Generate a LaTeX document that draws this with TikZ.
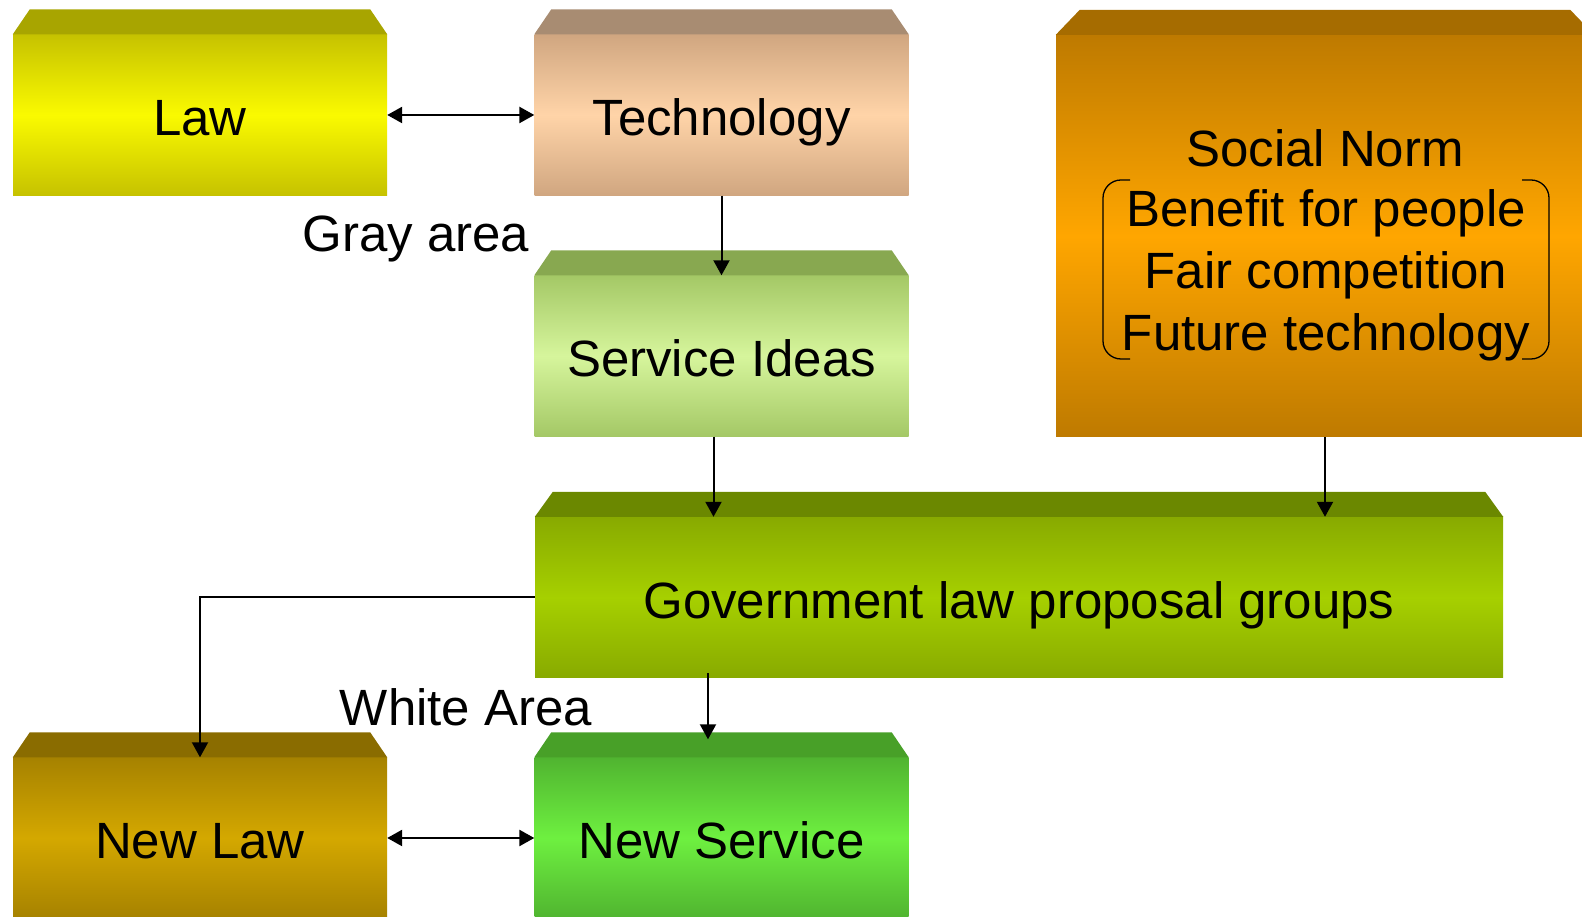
\documentclass[tikz,border=0pt]{standalone}
\usepackage{fontspec}
\setmainfont{Liberation Sans}
\usetikzlibrary{arrows.meta,calc,positioning}
\tikzset {>={Triangle[length=15pt,width=16pt]}}

\definecolor{lawbevel}{HTML}{A8A500}
\definecolor{lawedge}{HTML}{C6C200}
\definecolor{lawmid}{HTML}{FAFA00}
\definecolor{techbevel}{HTML}{A88C72}
\definecolor{techedge}{HTML}{D0A680}
\definecolor{techmid}{HTML}{FFD4A8}
\definecolor{ideabevel}{HTML}{88A850}
\definecolor{ideaedge}{HTML}{A4C866}
\definecolor{ideamid}{HTML}{D6F59C}
\definecolor{normbevel}{HTML}{A66C00}
\definecolor{normedge}{HTML}{BE7A00}
\definecolor{normmid}{HTML}{FFA600}
\definecolor{govbevel}{HTML}{6B8800}
\definecolor{govedge}{HTML}{88AA00}
\definecolor{govmid}{HTML}{A6D000}
\definecolor{newlawbevel}{HTML}{8A6C00}
\definecolor{newlawedge}{HTML}{A68200}
\definecolor{newlawmid}{HTML}{D4A800}
\definecolor{newservbevel}{HTML}{48A028}
\definecolor{newservedge}{HTML}{50B430}
\definecolor{newservmid}{HTML}{6EF040}

\tikzset{
  block/.style={rectangle,inner sep=0pt,minimum width=374pt,minimum height=161pt,
    text height=42pt,text depth=0pt,font=\fontsize{51pt}{62pt}\selectfont},
  shadebox/.style={block,top color=#1edge,bottom color=#1edge,middle color=#1mid},
  label/.style={inner sep=0pt,font=\fontsize{51pt}{62pt}\selectfont},
  link/.style={line width=2pt},
  twoway/.style={line width=2.5pt,<->}
}

\begin{document}
\begin{tikzpicture}[x=1pt,y=1pt]
\useasboundingbox (0,0) rectangle (1582,917);
% boxes
\node[shadebox=law] (law) at (200,802) {Law};
\node[shadebox=tech] (tech) at (721.5,802) {Technology};
\node[shadebox=idea] (ideas) at (721.5,561) {Service Ideas};
\node[shadebox=norm,minimum width=538pt,minimum height=402pt] (norm) at (1325,681) {};
\node[shadebox=gov,minimum width=968pt] (gov) at (1019,319.5) {Government law proposal groups};
\node[shadebox=newlaw] (newlaw) at (200,79) {New Law};
\node[shadebox=newserv] (newserv) at (721.5,79) {New Service};
% bevels on top
\foreach \n/\c/\i in {law/lawbevel/17,tech/techbevel/17,ideas/ideabevel/17,norm/normbevel/24,
    gov/govbevel/18,newlaw/newlawbevel/17,newserv/newservbevel/17}
  \fill[\c] (\n.north west) -- ++(\i,25) -- ($(\n.north east)+(-\i,25)$) -- (\n.north east) -- cycle;
% social norm text
\node[label] (normtitle) at (1325,769) {Social Norm};
\node[label,align=center] (normitems) at (1326,642) {Benefit for people\\Fair competition\\Future technology};
\coordinate (brtl) at ($(normitems.center)+(-196,95)$);
\coordinate (brbl) at ($(normitems.center)+(-196,-84)$);
\coordinate (brtr) at ($(normitems.center)+(196,95)$);
\coordinate (brbr) at ($(normitems.center)+(196,-84)$);
\draw[line width=1.3pt,rounded corners=18pt] (brtl) -- ++(-27,0) -- ($(brbl)+(-27,0)$) -- (brbl);
\draw[line width=1.3pt,rounded corners=18pt] (brtr) -- ++(27,0) -- ($(brbr)+(27,0)$) -- (brbr);
% area labels
\node[label] (gray) at (416,678) {Gray area};
\node[label] (white) at (466,210) {White Area};
% connectors
\draw[twoway] (law.east) -- (tech.west);
\draw[link,->] (tech.south) -- (ideas.north);
\draw[link,->] ([xshift=-8pt]ideas.south) -- ([xshift=-8pt]ideas.south |- gov.north);
\draw[link,->] (norm.south) -- (norm.south |- gov.north);
\draw[link,->] (gov.west) -| (newlaw.north);
\draw[link,->] ([xshift=-13.5pt,yshift=5pt]newserv.north |- gov.south) -- ([xshift=-13.5pt,yshift=18pt]newserv.north);
\draw[twoway] (newlaw.east) -- (newserv.west);
\end{tikzpicture}
\end{document}
